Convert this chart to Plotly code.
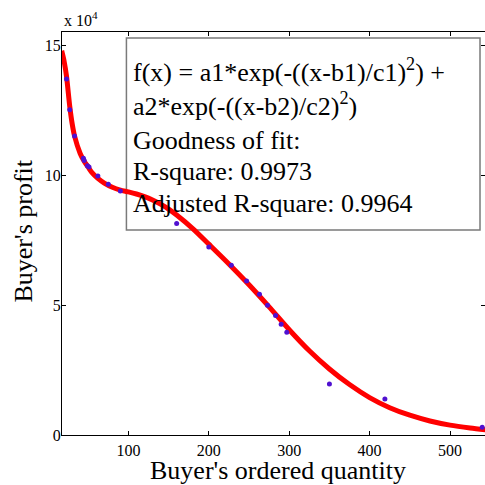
import plotly.graph_objects as go

# Observed data (buyer's ordered quantity vs buyer's profit)
qty = [23, 27, 33, 44, 45, 49, 51, 62, 75, 90, 160, 200, 228, 247, 263, 273, 283, 290, 297, 350, 419, 540]
profit = [136900, 125100, 115000, 106400, 105600, 103600, 103100, 99600, 96400, 93800,
          81300, 72300, 65300, 59200, 54100, 49900, 46000, 42600, 39500, 19600, 13800, 3000]

# Fitted curve
fit_x = [17, 20, 23, 27, 30, 33, 40, 45, 50, 55, 62, 70, 80, 90, 100, 110, 120, 130, 140, 150, 160,
         180, 200, 225, 250, 275, 300, 325, 350, 375, 400, 425, 450, 475, 500, 525, 545]
fit_y = [147800, 143800, 138000, 126500, 119800, 115000, 108300, 105300, 103000, 100800,
         98700, 96900, 95300, 94200, 93500, 92700, 91700, 90400, 88800, 86900, 84600,
         79400, 73400, 65800, 57800, 49300, 40500, 32400, 25400, 19400, 14400, 10500,
         7600, 5400, 3800, 2700, 2000]

x_ticks = [100, 200, 300, 400, 500]
y_ticks = [0, 50000, 100000, 150000]
y_ticktext = ["0", "5", "10", "15"]

box_lines = [
    "f(x) = a1*exp(-((x-b1)/c1)<sup>2</sup>) +",
    "a2*exp(-((x-b2)/c2)<sup>2</sup>)",
    "Goodness of fit:",
    "R-square: 0.9973",
    "Adjusted R-square: 0.9964",
]

FONT = "Liberation Serif"

fig = go.Figure()
fig.add_trace(go.Scatter(x=fit_x, y=fit_y, mode="lines",
                         line=dict(color="#ff0000", width=5, shape="spline", smoothing=0.8),
                         hoverinfo="skip", showlegend=False))
fig.add_trace(go.Scatter(x=qty, y=profit, mode="markers", marker=dict(color="#5010d0", size=5),
                         showlegend=False))
# dummy trace for right-side ticks
fig.add_trace(go.Scatter(x=[None], y=[None], yaxis="y2", showlegend=False))

L, R, T, B = 61.5, 0, 32, 50
W = H = 485
pw = W - L - R
ph = H - T - B

xr = [17.4, 543.5]
yr = [0, 155000]

fig.update_layout(
    width=W, height=H,
    margin=dict(l=L, r=R, t=T, b=B, pad=0),
    paper_bgcolor="white", plot_bgcolor="white",
    font=dict(family=FONT, size=16, color="black"),
    xaxis=dict(range=xr, tickvals=x_ticks, ticks="inside", ticklen=4, tickcolor="black",
               showline=True, linecolor="black", linewidth=1, mirror="ticks", showgrid=False,
               zeroline=False, tickfont=dict(family=FONT, size=16), ticklabelstandoff=1),
    yaxis=dict(range=yr, tickvals=y_ticks, ticktext=y_ticktext, ticks="inside", ticklen=4,
               tickcolor="black", showline=True, linecolor="black", linewidth=1, showgrid=False,
               zeroline=False, tickfont=dict(family=FONT, size=16)),
    yaxis2=dict(range=yr, tickvals=y_ticks, ticks="inside", ticklen=4, tickcolor="black",
                overlaying="y", side="right", showline=False, showgrid=False, zeroline=False,
                showticklabels=False),
)
try:
    fig.update_layout(yaxis_ticklabelstandoff=-3)
except Exception:
    pass

def px_to_paper_x(px):
    return (px - L) / pw

def py_to_paper_y(py):
    return (H - B - py) / ph

fig.add_shape(type="rect", xref="paper", yref="paper",
              x0=px_to_paper_x(126), x1=px_to_paper_x(480),
              y0=py_to_paper_y(230), y1=py_to_paper_y(38),
              line=dict(color="#7a7a7a", width=1.5), fillcolor="rgba(0,0,0,0)", layer="below")

line_y = [70, 104, 140, 172, 203]
for txt, yy in zip(box_lines, line_y):
    fig.add_annotation(xref="paper", yref="paper", x=px_to_paper_x(131), y=py_to_paper_y(yy),
                       xanchor="left", yanchor="middle", text=txt, showarrow=False,
                       font=dict(family=FONT, size=26, color="black"))

fig.add_annotation(xref="paper", yref="paper", x=0, y=1, xanchor="left", yanchor="bottom",
                   text="x 10<sup>4</sup>", showarrow=False, yshift=1,
                   font=dict(family=FONT, size=16, color="black"))

# axis titles
fig.add_annotation(xref="paper", yref="paper", x=px_to_paper_x(278), y=py_to_paper_y(470),
                   xanchor="center", yanchor="middle", text="Buyer's ordered quantity",
                   showarrow=False, font=dict(family=FONT, size=26, color="black"))
fig.add_annotation(xref="paper", yref="paper", x=px_to_paper_x(22), y=py_to_paper_y(231),
                   xanchor="center", yanchor="middle", text="Buyer's profit", textangle=-90,
                   showarrow=False, font=dict(family=FONT, size=26, color="black"))

fig.write_html("out.html", config={"displayModeBar": False},
               post_script="document.body.style.margin='0';document.body.style.overflow='hidden';")
